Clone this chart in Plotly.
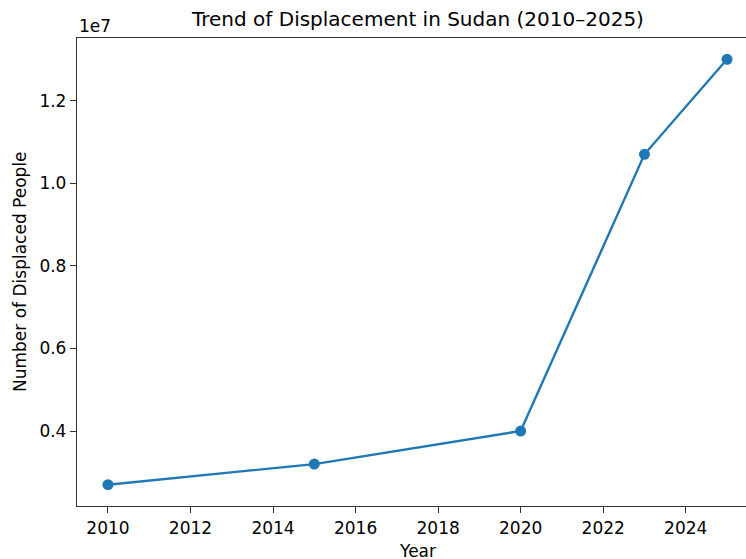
import plotly.graph_objects as go

years = [2010, 2015, 2020, 2023, 2025]
displaced = [2.7e6, 3.2e6, 4.0e6, 10.7e6, 13.0e6]
x_ticks = [2010, 2012, 2014, 2016, 2018, 2020, 2022, 2024]
y_ticks = [4e6, 6e6, 8e6, 10e6, 12e6]
y_tick_labels = ["0.4", "0.6", "0.8", "1.0", "1.2"]

blue = "#1f77b4"
font = "DejaVu Sans"

fig = go.Figure()
fig.add_trace(go.Scatter(
    x=years, y=displaced, mode="lines+markers",
    line=dict(color=blue, width=2.4),
    marker=dict(color=blue, size=11),
    showlegend=False, cliponaxis=False,
))

ymin, ymax = min(displaced), max(displaced)
ypad = (ymax - ymin) * 0.05
xmin, xmax = min(years), max(years)
xpad = (xmax - xmin) * 0.05

axis_common = dict(
    showgrid=False, zeroline=False, showline=True, linecolor="#333333",
    linewidth=1.3, ticks="outside", ticklen=6, tickwidth=1.3,
    tickcolor="#333333", tickfont=dict(family=font, size=17, color="black"),
)

fig.update_layout(
    width=746, height=559, autosize=False,
    margin=dict(l=77, r=0, t=38, b=53),
    plot_bgcolor="white", paper_bgcolor="white",
    font=dict(family=font, color="black"),
    # the reference frame is cut at the right image edge
    xaxis=dict(range=[xmin - xpad, xmax + 0.46], tickvals=x_ticks,
               mirror=True, **axis_common),
    yaxis=dict(range=[ymin - ypad, ymax + ypad], tickvals=y_ticks,
               ticktext=y_tick_labels, mirror=False, **axis_common),
    annotations=[
        dict(text="Trend of Displacement in Sudan (2010–2025)", x=0.5, y=1,
             xref="paper", yref="paper", xanchor="center", yanchor="bottom",
             xshift=6, yshift=5, showarrow=False, font=dict(family=font, size=20)),
        dict(text="1e7", x=0, y=1, xref="paper", yref="paper", xanchor="left",
             yanchor="bottom", yshift=0, showarrow=False,
             font=dict(family=font, size=17)),
        dict(text="Year", x=0.5, y=0, xref="paper", yref="paper",
             xanchor="center", yanchor="top", xshift=6, yshift=-33,
             showarrow=False, font=dict(family=font, size=17)),
        dict(text="Number of Displaced People", x=0, y=0.5, xref="paper",
             yref="paper", xanchor="right", yanchor="middle", xshift=-45,
             textangle=-90, showarrow=False, font=dict(family=font, size=17)),
    ],
)

fig.write_html("out.html", config={"responsive": False, "displayModeBar": False},
               post_script="document.body.style.margin='0px';")
